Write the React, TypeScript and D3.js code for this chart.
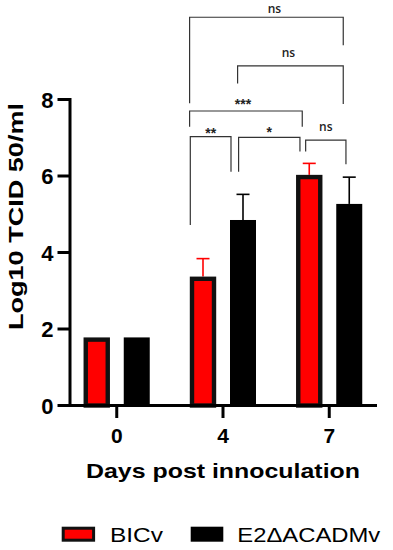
import React from 'react';
import * as d3 from 'd3';

// data
const days = ['0', '4', '7'];
const series = ['BICv', 'E2ΔACADMv'];
const bicvMeans = [1.78, 3.37, 6.03];
const bicvErr = [0, 0.47, 0.3];
const mutantMeans = [1.78, 4.85, 5.27];
const mutantErr = [0, 0.67, 0.7];
const yTicks = [0, 2, 4, 6, 8];

// significance brackets: [day, series, dx] for each leg, bar-top level and leg ends in log10 units
const brackets = [
  { label: 'ns', from: ['4', 'BICv', -13.4], to: ['7', 'E2ΔACADMv', -6], top: 10.15, leftEnd: 7.9, rightEnd: 9.42, dx: 8, dy: -4.6 },
  { label: 'ns', from: ['4', 'E2ΔACADMv', -5.4], to: ['7', 'E2ΔACADMv', -6], top: 8.88, leftEnd: 8.42, rightEnd: 7.88, dx: -2, dy: -9 },
  { label: '***', from: ['4', 'BICv', -13.4], to: ['7', 'BICv', -7], top: 7.7, leftEnd: 7.29, rightEnd: 7.29, dx: -3, dy: -1.5 },
  { label: '**', from: ['4', 'BICv', -12.7], to: ['4', 'E2ΔACADMv', -12], top: 7.03, leftEnd: 4.72, rightEnd: 6.11, dx: 0, dy: 1 },
  { label: '*', from: ['4', 'E2ΔACADMv', -4.4], to: ['7', 'BICv', -9.3], top: 7.01, leftEnd: 6.11, rightEnd: 6.64, dx: 0, dy: 0 },
  { label: 'ns', from: ['7', 'BICv', -3.6], to: ['7', 'E2ΔACADMv', -3.3], top: 6.94, leftEnd: 6.64, rightEnd: 6.31, dx: 0, dy: -9 },
];

const W = 393;
const H = 550;

const font = '"Liberation Sans", Arial, sans-serif';

export default function App() {
  const x = d3.scalePoint().domain(days).range([70, 376]).padding(0.44);
  const sub = d3.scaleBand().domain(series).range([-33, 33]).paddingInner(0.35);
  const y = d3.scaleLinear().domain([0, 8]).range([405.5, 99.5]);
  const bw = sub.bandwidth();

  const barX = (day: string, s: string) => (x(day) ?? 0) + (sub(s) ?? 0);
  const center = (day: string, s: string) => barX(day, s) + bw / 2;

  const rows = days.map((d, i) => ({
    day: d,
    bars: [
      { s: series[0], v: bicvMeans[i], e: bicvErr[i], color: 'red' },
      { s: series[1], v: mutantMeans[i], e: mutantErr[i], color: 'black' },
    ],
  }));

  return (
    <svg width={W} height={H} style={{ position: 'absolute', left: 0, top: 0, background: '#fff' }} fontFamily={font}>
      {/* error bars (drawn first so bars cover the stems) */}
      {rows.map(r =>
        r.bars.filter(b => b.e > 0).map(b => {
          const cx = center(r.day, b.s);
          const yt = y(b.v + b.e);
          return (
            <g key={r.day + b.s + 'err'} stroke={b.color === 'red' ? '#ff0000' : '#000'} strokeWidth={1.6}>
              <line x1={cx} x2={cx} y1={y(b.v)} y2={yt} />
              <line x1={cx - 6.5} x2={cx + 6.5} y1={yt} y2={yt} />
            </g>
          );
        })
      )}

      {/* bars */}
      {rows.map(r =>
        r.bars.map(b =>
          b.color === 'red' ? (
            <rect key={r.day + b.s} x={barX(r.day, b.s) + 2} width={bw - 4} y={y(b.v) + 2.2} height={y(0) - y(b.v) - 2.2}
              fill="#ff0000" stroke="#111" strokeWidth={4.4} />
          ) : (
            <rect key={r.day + b.s} x={barX(r.day, b.s)} width={bw} y={y(b.v)} height={y(0) - y(b.v)} fill="#000" />
          )
        )
      )}

      {/* axes */}
      <g stroke="#000" strokeWidth={3}>
        <line x1={70} x2={70} y1={y(8) - 1.5} y2={y(0)} />
        <line x1={70} x2={377} y1={y(0)} y2={y(0)} />
        {yTicks.map(t => <line key={t} x1={57.5} x2={70} y1={y(t)} y2={y(t)} />)}
        {days.map(d => <line key={d} x1={x(d)} x2={x(d)} y1={y(0)} y2={y(0) + 12.5} />)}
      </g>
      <g fontWeight="bold" fill="#000">
        {yTicks.map(t => (
          <text key={t} x={53.5} y={y(t) + 8} textAnchor="end" fontSize={22}>{t}</text>
        ))}
        {days.map(d => (
          <text key={d} x={x(d)} y={443.3} textAnchor="middle" fontSize={21}>{d}</text>
        ))}
      </g>
      <text transform="translate(22.8,216.5) rotate(-90)" textAnchor="middle" fontWeight="bold" fontSize={20.5}
        textLength={227} lengthAdjust="spacingAndGlyphs">Log10 TCID 50/ml</text>
      <text x={223} y={478.3} textAnchor="middle" fontWeight="bold" fontSize={21}
        textLength={274} lengthAdjust="spacingAndGlyphs">Days post innoculation</text>

      {/* significance brackets */}
      {brackets.map((b, i) => {
        const x1 = center(b.from[0] as string, b.from[1] as string) + (b.from[2] as number);
        const x2 = center(b.to[0] as string, b.to[1] as string) + (b.to[2] as number);
        const yt = y(b.top);
        const isStar = b.label.startsWith('*');
        return (
          <g key={i}>
            <path d={`M${x1},${y(b.leftEnd)}V${yt}H${x2}V${y(b.rightEnd)}`} fill="none" stroke="#333" strokeWidth={1.2} />
            <text x={(x1 + x2) / 2 + b.dx} y={yt + b.dy} textAnchor="middle"
              fontFamily={isStar ? font : '"Open Sans", sans-serif'}
              fontSize={isStar ? 14 : 12} fontWeight={isStar ? 'bold' : 600} fill="#222">{b.label}</text>
          </g>
        );
      })}

      {/* legend */}
      <rect x={63.2} y={528.2} width={30.4} height={12} fill="#ff0000" stroke="#111" strokeWidth={3} />
      <text x={110} y={541.7} fontSize={21} textLength={53} lengthAdjust="spacingAndGlyphs">{series[0]}</text>
      <rect x={190.7} y={526.7} width={32.6} height={15} fill="#000" />
      <text x={237.3} y={541.7} fontSize={21} textLength={143} lengthAdjust="spacingAndGlyphs">{series[1]}</text>
    </svg>
  );
}
